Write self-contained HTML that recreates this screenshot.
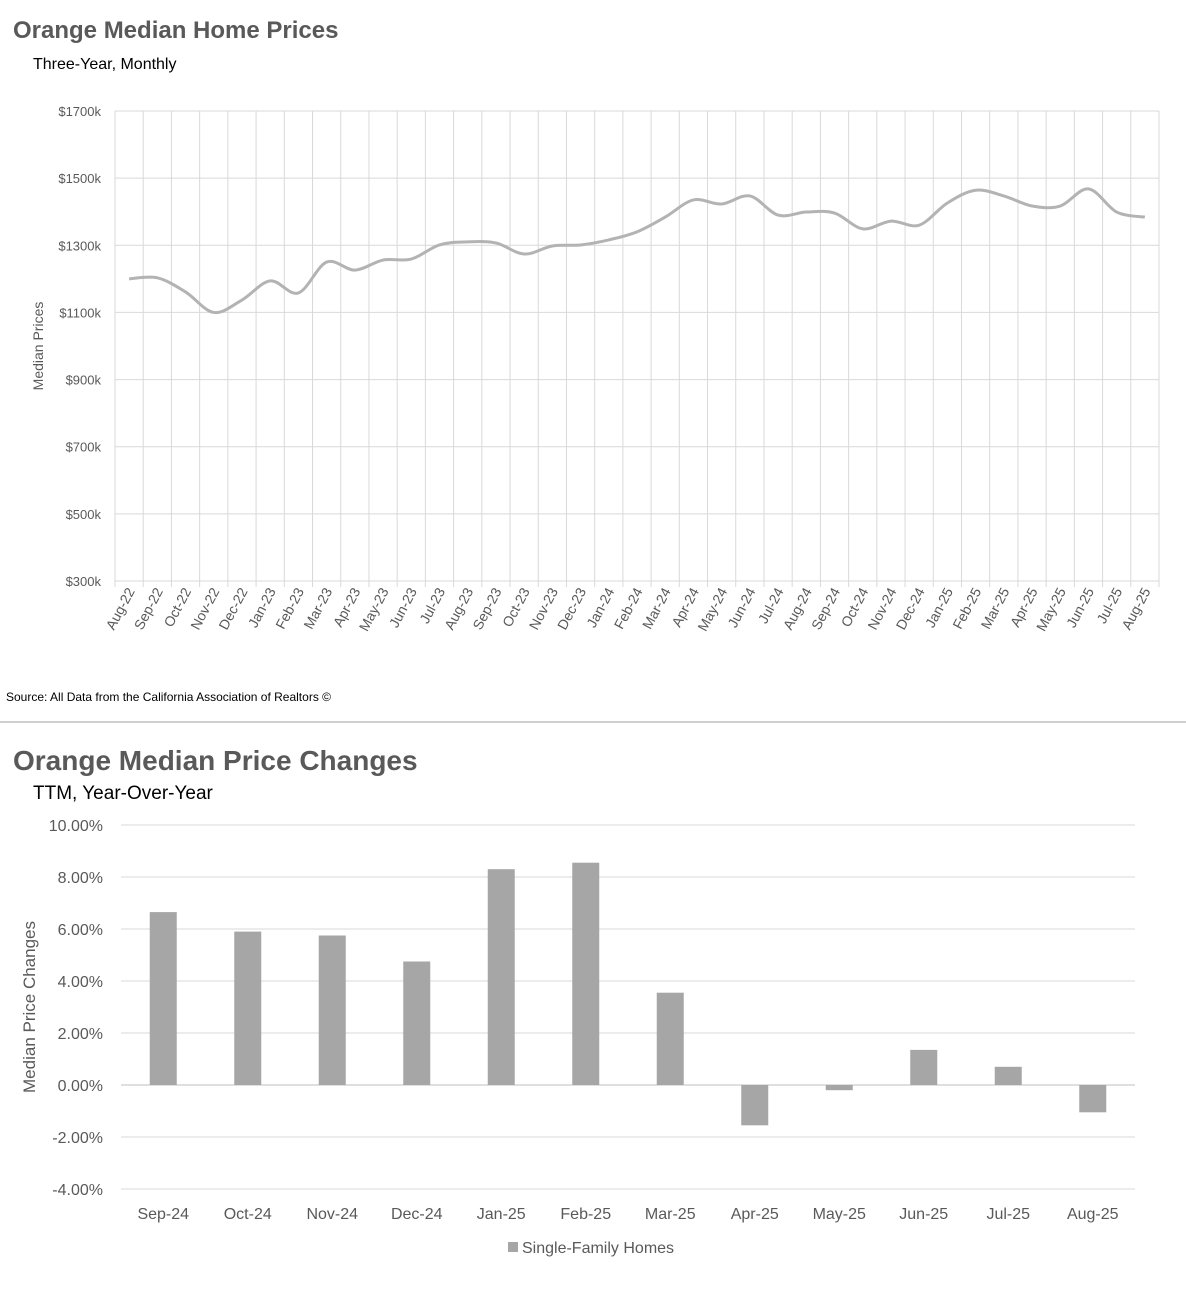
<!DOCTYPE html>
<html><head><meta charset="utf-8"><style>
body{margin:0;background:#fff;width:1186px;height:1300px;overflow:hidden;font-family:"Liberation Sans",sans-serif}
svg{display:block}
</style></head><body>
<svg id="s" width="1186" height="1300" xmlns="http://www.w3.org/2000/svg" font-family="Liberation Sans, sans-serif">
<text x="13" y="38" font-size="24" font-weight="bold" fill="#595959">Orange Median Home Prices</text>
<text x="33" y="69" font-size="16" fill="#000">Three-Year, Monthly</text>
<text transform="translate(43,346) rotate(-90)" text-anchor="middle" font-size="14" fill="#595959">Median Prices</text>
<g id="c1"></g>
<text x="6" y="701" font-size="12" fill="#000">Source: All Data from the California Association of Realtors ©</text>
<line x1="0" y1="722" x2="1186" y2="722" stroke="#d0d0d0" stroke-width="2"/>
<text x="13" y="770" font-size="28" font-weight="bold" fill="#595959">Orange Median Price Changes</text>
<text x="33" y="799" font-size="19" fill="#000">TTM, Year-Over-Year</text>
<text transform="translate(35,1007) rotate(-90)" text-anchor="middle" font-size="17" fill="#595959">Median Price Changes</text>
<g id="c2"></g>
<rect x="508" y="1242" width="10" height="10" fill="#a6a6a6"/>
<text x="522" y="1253" font-size="16" fill="#595959">Single-Family Homes</text>
</svg>
<script>
const months=["Aug-22","Sep-22","Oct-22","Nov-22","Dec-22","Jan-23","Feb-23","Mar-23","Apr-23","May-23","Jun-23","Jul-23","Aug-23","Sep-23","Oct-23","Nov-23","Dec-23","Jan-24","Feb-24","Mar-24","Apr-24","May-24","Jun-24","Jul-24","Aug-24","Sep-24","Oct-24","Nov-24","Dec-24","Jan-25","Feb-25","Mar-25","Apr-25","May-25","Jun-25","Jul-25","Aug-25"];
const prices=[1200,1203,1161,1100,1137,1194,1158,1250,1226,1256,1259,1301,1310,1307,1274,1298,1301,1316,1340,1384,1435,1423,1447,1390,1399,1396,1349,1372,1360,1426,1464,1447,1417,1417,1468,1399,1384];
const priceTicks=[300,500,700,900,1100,1300,1500,1700];
const barCats=["Sep-24","Oct-24","Nov-24","Dec-24","Jan-25","Feb-25","Mar-25","Apr-25","May-25","Jun-25","Jul-25","Aug-25"];
const barVals=[6.65,5.9,5.75,4.75,8.3,8.55,3.55,-1.55,-0.2,1.35,0.7,-1.05];
const pctTicks=[-4,-2,0,2,4,6,8,10];
const NS="http://www.w3.org/2000/svg";
function mk(p,t,a){const e=document.createElementNS(NS,t);for(const k in a)e.setAttribute(k,a[k]);p.appendChild(e);return e;}
const g1=document.getElementById('c1');
const L=115,R=1159,T=111,B=581;
const n=months.length,cw=(R-L)/n;
const x1=i=>L+cw*(i+0.5);
const y1=v=>B-(v-300)/1400*(B-T);
for(const t of priceTicks){
 const l=mk(g1,'line',{x1:L,x2:R,y1:y1(t),y2:y1(t),stroke:'#d9d9d9'});
 
 
 const tx=mk(g1,'text',{x:101,y:y1(t)+5,'text-anchor':'end','font-size':13,fill:'#595959'});
 tx.textContent='$'+t+'k';
 
 
}
for(let i=0;i<=n;i++){
 const x=L+cw*i;
 const l=mk(g1,'line',{x1:x,x2:x,y1:T,y2:B+6,stroke:'#d9d9d9'});
 
 
}
months.forEach((m,i)=>{
 const x=x1(i)+6,y=591;
 const tx=mk(g1,'text',{transform:`translate(${x},${y}) rotate(-62)`,'text-anchor':'end','font-size':14,fill:'#595959'});
 tx.textContent=m;
 
 
});
const pts=prices.map((v,i)=>[x1(i),y1(v)]);
let d=`M${pts[0][0]},${pts[0][1]}`;
for(let i=0;i<pts.length-1;i++){
 const p0=pts[Math.max(0,i-1)],p1=pts[i],p2=pts[i+1],p3=pts[Math.min(pts.length-1,i+2)];
 const c1=[p1[0]+(p2[0]-p0[0])/6,p1[1]+(p2[1]-p0[1])/6];
 const c2=[p2[0]-(p3[0]-p1[0])/6,p2[1]-(p3[1]-p1[1])/6];
 d+=` C${c1[0]},${c1[1]} ${c2[0]},${c2[1]} ${p2[0]},${p2[1]}`;
}
const line=mk(g1,'path',{d:d,fill:'none',stroke:'#b3b3b3','stroke-width':3,'stroke-linejoin':'round'});


const g2=document.getElementById('c2');
const L2=121,R2=1135,T2=825,B2=1189;
const y2=v=>B2-(v+4)/14*(B2-T2);
const bw=(R2-L2)/barCats.length;
for(const t of pctTicks){
 const l=mk(g2,'line',{x1:L2,x2:R2,y1:y2(t),y2:y2(t),stroke:t===0?'#bfbfbf':'#d9d9d9'});
 
 
 const tx=mk(g2,'text',{x:103,y:y2(t)+6,'text-anchor':'end','font-size':16,fill:'#595959'});
 tx.textContent=t.toFixed(2)+'%';
 
 
}
barCats.forEach((c,i)=>{
 const cx=L2+bw*(i+0.5),v=barVals[i];
 const top=Math.min(y2(v),y2(0)),h=Math.abs(y2(v)-y2(0));
 const r=mk(g2,'rect',{x:cx-13.5,y:top,width:27,height:h,fill:'#a6a6a6'});
 
 
 const tx=mk(g2,'text',{x:cx,y:1219,'text-anchor':'middle','font-size':16,fill:'#595959'});
 tx.textContent=c;
 
 
});
</script>
</body></html>
